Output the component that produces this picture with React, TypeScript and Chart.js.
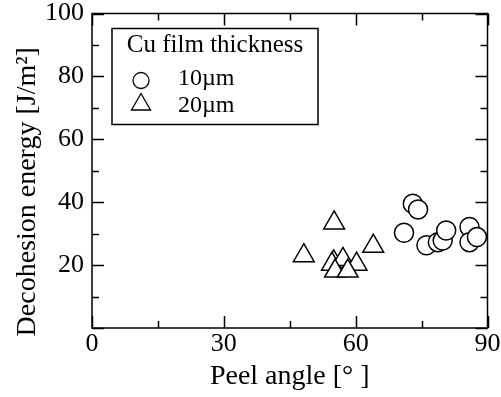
import React, { useEffect, useRef } from 'react';
import { Chart, registerables } from 'chart.js';

Chart.register(...registerables);

// ---- data ----
const seriesLabels = ['10\u00b5m', '20\u00b5m'];
const legendTitle = 'Cu film thickness';
const angle10 = [73.0, 74.2, 71.0, 76.1, 78.7, 79.8, 80.6, 85.9, 85.9, 87.6];
const energy10 = [39.5, 37.7, 30.3, 26.3, 27.3, 27.8, 31.0, 32.1, 27.3, 28.9];
const angle20 = [48.2, 55.1, 55.0, 54.6, 57.1, 60.2, 64.0, 55.3, 58.2];
const energy20 = [23.0, 33.4, 21.0, 20.3, 21.8, 20.3, 26.0, 18.1, 18.1];
const xRange = [0, 90];
const yRange = [0, 100];
const xMajorStep = 30;
const xMinorStep = 15;
const yMajorStep = 20;
const yMinorStep = 10;
const xTitle = 'Peel angle [\u00b0 ]';
const yTitle = 'Decohesion energy [J/m\u00b2]      ';

const FONT = "'Liberation Serif', 'Times New Roman', serif";

const frameTicks = {
  id: 'frameTicks',
  beforeDatasetsDraw(chart: any) {
    const { ctx, chartArea: a, scales } = chart;
    const x = scales.x;
    const y = scales.y;
    ctx.save();
    ctx.strokeStyle = '#000';
    ctx.lineWidth = 1.5;
    ctx.strokeRect(a.left, a.top, a.right - a.left, a.bottom - a.top);
    ctx.beginPath();
    for (let v = xRange[0]; v <= xRange[1] + 1e-9; v += xMinorStep) {
      const px = Math.round(x.getPixelForValue(v)) + 0.5;
      const len = Math.abs(v % xMajorStep) < 1e-9 ? 12 : 7;
      ctx.moveTo(px, a.bottom);
      ctx.lineTo(px, a.bottom - len);
      ctx.moveTo(px, a.top);
      ctx.lineTo(px, a.top + len);
    }
    for (let v = yRange[0]; v <= yRange[1] + 1e-9; v += yMinorStep) {
      const py = Math.round(y.getPixelForValue(v)) + 0.5;
      const len = Math.abs(v % yMajorStep) < 1e-9 ? 12 : 7;
      ctx.moveTo(a.left, py);
      ctx.lineTo(a.left + len, py);
      ctx.moveTo(a.right, py);
      ctx.lineTo(a.right - len, py);
    }
    ctx.stroke();
    ctx.restore();
  },
};

function drawMarker(ctx: CanvasRenderingContext2D, style: string, cx: number, cy: number, r: number) {
  ctx.beginPath();
  if (style === 'circle') {
    ctx.arc(cx, cy, r, 0, Math.PI * 2);
  } else {
    const h = (Math.PI * 2) / 3;
    ctx.moveTo(cx, cy - r);
    ctx.lineTo(cx + Math.sin(h) * r, cy - Math.cos(h) * r);
    ctx.lineTo(cx + Math.sin(2 * h) * r, cy - Math.cos(2 * h) * r);
    ctx.closePath();
  }
  ctx.fill();
  ctx.stroke();
}

const boxLegend = {
  id: 'boxLegend',
  afterDraw(chart: any) {
    const { ctx, chartArea: a } = chart;
    const left = a.left + 20;
    const top = a.top + 15;
    const w = 206;
    const h = 96;
    ctx.save();
    ctx.fillStyle = '#fff';
    ctx.strokeStyle = '#000';
    ctx.lineWidth = 1.5;
    ctx.fillRect(left, top, w, h);
    ctx.strokeRect(left, top, w, h);
    ctx.fillStyle = '#000';
    ctx.textBaseline = 'alphabetic';
    ctx.textAlign = 'center';
    ctx.font = `25px ${FONT}`;
    ctx.fillText(legendTitle, left + w / 2, top + 23);
    ctx.textAlign = 'left';
    ctx.font = `24px ${FONT}`;
    chart.data.datasets.forEach((ds: any, i: number) => {
      const base = top + 56 + i * 27;
      ctx.fillStyle = '#fff';
      ctx.lineWidth = 1.3;
      if (ds.pointStyle === 'circle') drawMarker(ctx, 'circle', left + 29, base - 4, 8);
      else drawMarker(ctx, 'triangle', left + 29, base - 7, 11);
      ctx.fillStyle = '#000';
      ctx.fillText(ds.label, left + 66, base);
    });
    ctx.restore();
  },
};

export default function App() {
  const ref = useRef<HTMLCanvasElement>(null);
  useEffect(() => {
    if (!ref.current) return;
    const chart = new Chart(ref.current, {
      type: 'scatter',
      data: {
        datasets: [
          {
            label: seriesLabels[0],
            data: angle10.map((v, i) => ({ x: v, y: energy10[i] })),
            pointStyle: 'circle',
            pointRadius: 9.5,
            pointBorderWidth: 1.5,
            borderColor: '#000',
            backgroundColor: '#fff',
          },
          {
            label: seriesLabels[1],
            data: angle20.map((v, i) => ({ x: v, y: energy20[i] })),
            pointStyle: 'triangle',
            pointRadius: 12,
            pointBorderWidth: 1.5,
            borderColor: '#000',
            backgroundColor: '#fff',
          },
        ],
      },
      options: {
        responsive: false,
        animation: false,
        events: [],
        layout: { padding: { top: 12, right: 11, left: 0, bottom: 0 } },
        plugins: { legend: { display: false }, tooltip: { enabled: false } },
        scales: {
          x: {
            type: 'linear',
            min: xRange[0],
            max: xRange[1],
            grid: { display: false, drawTicks: false, tickLength: 0 },
            border: { display: false },
            ticks: {
              stepSize: xMajorStep,
              color: '#000',
              padding: 3,
              maxRotation: 0,
              font: { family: FONT, size: 26, lineHeight: 1 },
            },
            title: {
              display: true,
              text: xTitle,
              color: '#000',
              font: { family: FONT, size: 28, lineHeight: 1 },
              padding: { top: 0, bottom: 6 },
            },
            afterFit(scale: any) {
              scale.height = 69;
              scale.paddingLeft = 0;
              scale.paddingRight = 0;
            },
          },
          y: {
            type: 'linear',
            min: yRange[0],
            max: yRange[1],
            grid: { display: false, drawTicks: false, tickLength: 0 },
            border: { display: false },
            ticks: {
              stepSize: yMajorStep,
              color: '#000',
              padding: 8,
              font: { family: FONT, size: 26, lineHeight: 1 },
              callback: (v: any) => (v === 0 ? '' : String(v)),
            },
            title: {
              display: true,
              text: yTitle,
              color: '#000',
              font: { family: FONT, size: 28, lineHeight: 1 },
              padding: { top: 14, bottom: 0 },
            },
            afterFit(scale: any) {
              scale.width = 92;
              scale.paddingTop = 0;
              scale.paddingBottom = 0;
            },
          },
        },
      },
      plugins: [frameTicks, boxLegend],
    } as any);
    return () => chart.destroy();
  }, []);
  return (
    <div style={{ position: 'fixed', left: 0, top: 0, width: 501, height: 397, background: '#fff' }}>
      <canvas ref={ref} width={501} height={397} style={{ display: 'block' }} />
    </div>
  );
}
